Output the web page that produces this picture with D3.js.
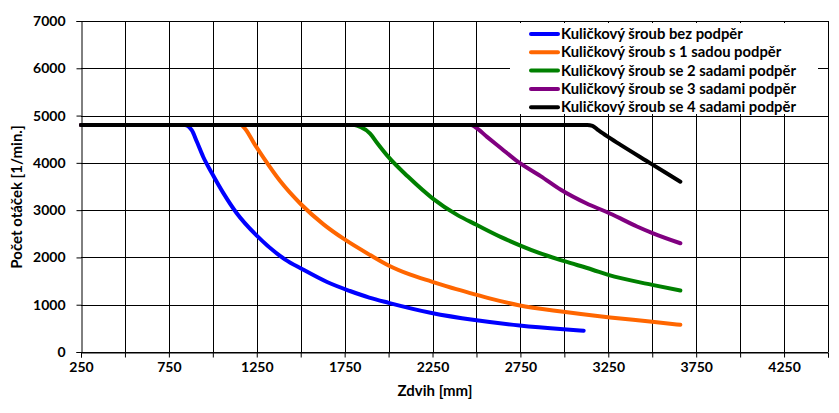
<!DOCTYPE html>
<html>
<head>
<meta charset="utf-8">
<script src="https://cdn.jsdelivr.net/npm/d3@7"></script>
<style>
  body { margin: 0; background: #fff; }
  text { font-family: Lato, "Open Sans", sans-serif; font-weight: bold; }
</style>
</head>
<body>
<div id="chart"></div>
<script>
// series data: [zdvih mm, otacky 1/min]
const bezPodper = [[250,4800],[840,4800],[880,4690],[910,4440],[945,4130],[995,3780],[1060,3360],[1135,2940],[1250,2460],[1410,1960],[1510,1750],[1650,1480],[1780,1290],[1890,1150],[2000,1040],[2245,825],[2490,675],[2745,560],[2995,480],[3110,450]];
const s1Sadou = [[250,4800],[1160,4800],[1175,4760],[1240,4380],[1290,4100],[1382,3620],[1500,3130],[1630,2700],[1750,2380],[1895,2050],[2000,1830],[2120,1640],[2245,1490],[2385,1330],[2490,1220],[2580,1130],[2740,990],[2995,850],[3200,755],[3260,730],[3500,640],[3660,575]];
const se2Sadami = [[250,4800],[1805,4800],[1840,4760],[1895,4620],[1935,4420],[2000,4120],[2110,3710],[2250,3250],[2390,2900],[2500,2690],[2640,2430],[2750,2250],[2860,2090],[3000,1920],[3160,1740],[3250,1630],[3500,1420],[3660,1300]];
const se3Sadami = [[250,4800],[2470,4800],[2490,4765],[2560,4550],[2640,4310],[2735,4025],[2865,3720],[2980,3430],[3127,3140],[3241,2960],[3316,2830],[3410,2660],[3505,2510],[3660,2300]];
const se4Sadami = [[250,4800],[3130,4800],[3160,4780],[3190,4700],[3240,4570],[3320,4380],[3490,3990],[3660,3600]];

const seriesNames = [
  "Kuličkový šroub bez podpěr",
  "Kuličkový šroub s 1 sadou podpěr",
  "Kuličkový šroub se 2 sadami podpěr",
  "Kuličkový šroub se 3 sadami podpěr",
  "Kuličkový šroub se 4 sadami podpěr"
];
const seriesColors = ["#0000ff", "#ff6600", "#008000", "#800080", "#000000"];
const seriesData = [bezPodper, s1Sadou, se2Sadami, se3Sadami, se4Sadami];

const xTicks = d3.range(250, 4501, 250);
const xLabels = d3.range(250, 4251, 500);
const yTicks = d3.range(0, 7001, 1000);

const width = 839, height = 413;
const plot = { left: 81, right: 828, top: 21, bottom: 352 };

const svg = d3.select("#chart")
  .append("svg")
  .attr("width", width)
  .attr("height", height);

const x = d3.scaleLinear().domain([250, 4500]).range([plot.left, plot.right]);
const y = d3.scaleLinear().domain([0, 7000]).range([plot.bottom, plot.top]);

// grid
svg.append("g")
  .selectAll("line")
  .data(yTicks)
  .enter()
  .append("line")
  .attr("x1", plot.left).attr("x2", plot.right)
  .attr("y1", d => Math.round(y(d)) + 0.5)
  .attr("y2", d => Math.round(y(d)) + 0.5)
  .attr("stroke", "#000").attr("stroke-width", 1);

svg.append("g")
  .selectAll("line")
  .data(xTicks.slice(1))
  .enter()
  .append("line")
  .attr("x1", d => Math.round(x(d)) + 0.5)
  .attr("x2", d => Math.round(x(d)) + 0.5)
  .attr("y1", plot.top).attr("y2", plot.bottom)
  .attr("stroke", "#000").attr("stroke-width", 1);

// axes
const xAxis = d3.axisBottom(x)
  .tickValues(xTicks)
  .tickSize(5)
  .tickFormat(d => xLabels.includes(d) ? d : "");
const gx = svg.append("g")
  .attr("transform", `translate(0,${plot.bottom + 0.5})`)
  .call(xAxis);
gx.select(".domain").attr("stroke", "#000");
gx.selectAll(".tick line").attr("stroke", "#000");
gx.selectAll(".tick text")
  .attr("y", 10)
  .attr("font-size", 14)
  .attr("fill", "#000");

const yAxis = d3.axisLeft(y)
  .tickValues(yTicks)
  .tickSize(5)
  .tickFormat(d => d);
const gy = svg.append("g")
  .attr("transform", `translate(${plot.left + 0.5},0)`)
  .call(yAxis);
gy.select(".domain").attr("stroke", "#000");
gy.selectAll(".tick line").attr("stroke", "#000");
gy.selectAll(".tick text")
  .attr("x", -16)
  .attr("font-size", 14)
  .attr("fill", "#000");

// axis titles
svg.append("text")
  .attr("x", 435)
  .attr("y", 396)
  .attr("text-anchor", "middle")
  .attr("font-size", 15)
  .text("Zdvih [mm]");

svg.append("text")
  .attr("transform", "translate(22,197) rotate(-90)")
  .attr("text-anchor", "middle")
  .attr("font-size", 15)
  .text("Počet otáček [1/min.]");

// lines
const line = d3.line()
  .x(d => x(d[0]))
  .y(d => y(d[1]))
  .curve(d3.curveMonotoneX);

svg.append("g")
  .selectAll("path")
  .data(seriesData)
  .enter()
  .append("path")
  .attr("d", d => line(d))
  .attr("fill", "none")
  .attr("stroke", (d, i) => seriesColors[i])
  .attr("stroke-width", 4)
  .attr("stroke-linejoin", "round")
  .attr("stroke-linecap", "round");

// legend
const legend = svg.append("g");
legend.append("rect")
  .attr("x", 510).attr("y", 23)
  .attr("width", 308).attr("height", 91)
  .attr("fill", "#fff");

const rows = legend.selectAll(".row")
  .data(seriesNames)
  .enter()
  .append("g")
  .attr("transform", (d, i) => `translate(0,${34 + i * 18.3})`);

rows.append("line")
  .attr("x1", 531).attr("x2", 558)
  .attr("y1", 0).attr("y2", 0)
  .attr("stroke", (d, i) => seriesColors[i])
  .attr("stroke-width", 4)
  .attr("stroke-linecap", "round");

rows.append("text")
  .attr("x", 561)
  .attr("y", 0)
  .attr("dy", "0.35em")
  .attr("font-size", 14.8)
  .text(d => d);
</script>
</body>
</html>
